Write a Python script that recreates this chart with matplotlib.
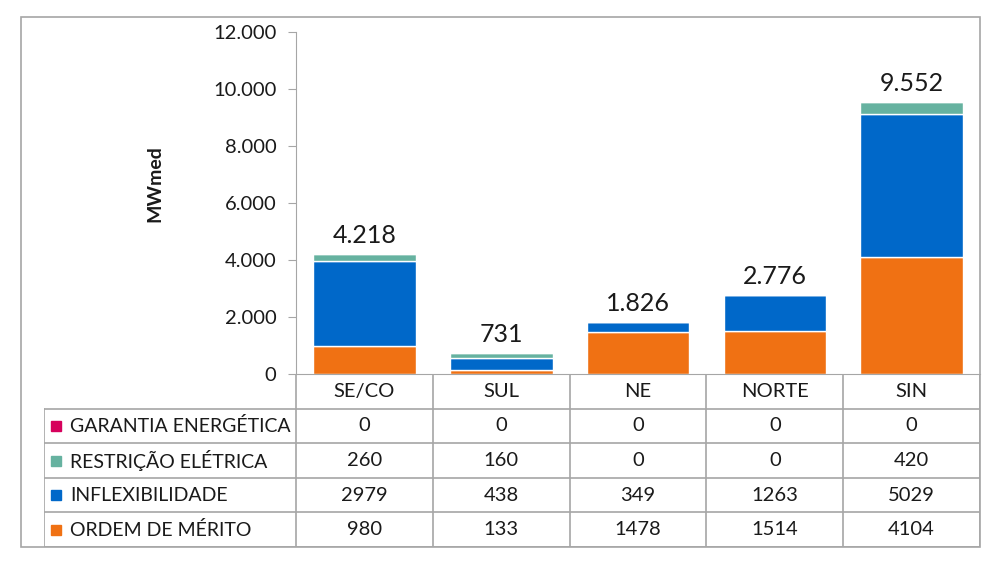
import matplotlib.pyplot as plt
from matplotlib.patches import Rectangle
from matplotlib.ticker import FuncFormatter

plt.rcParams['font.family'] = ['Lato', 'DejaVu Sans']

regioes = ['SE/CO', 'SUL', 'NE', 'NORTE', 'SIN']
series = ['GARANTIA ENERGÉTICA', 'RESTRIÇÃO ELÉTRICA', 'INFLEXIBILIDADE', 'ORDEM DE MÉRITO']
garantia = [0, 0, 0, 0, 0]
restricao = [260, 160, 0, 0, 420]
inflex = [2979, 438, 349, 1263, 5029]
merito = [980, 133, 1478, 1514, 4104]
totais = ['4.218', '731', '1.826', '2.776', '9.552']
cores = ['#D6005C', '#66B2A0', '#0068C9', '#F07113']

W, H = 1004, 573
fig = plt.figure(figsize=(W / 100, H / 100), dpi=100)

def px(x0, y0, x1, y1):
    # pixel box -> figure fraction
    return [x0 / W, 1 - y1 / H, (x1 - x0) / W, (y1 - y0) / H]

grid = '#A6A6A6'
txt = '#1a1a1a'

# moldura externa
fig.patches.append(Rectangle((21 / W, 1 - 547 / H), (980 - 21) / W, (547 - 17) / H,
                             transform=fig.transFigure, fill=False, ec=grid, lw=1.2))

ax = fig.add_axes(px(296, 32, 980, 374))
x = range(len(regioes))
bottom = [0] * len(regioes)
for vals, cor in [(merito, cores[3]), (inflex, cores[2]), (restricao, cores[1]), (garantia, cores[0])]:
    ax.bar(x, vals, bottom=bottom, width=0.75, color=cor, edgecolor='white', lw=1)
    bottom = [b + v for b, v in zip(bottom, vals)]

for i, t in enumerate(totais):
    ax.annotate(t, (i, bottom[i]), xytext=(0, 5), textcoords='offset points',
                ha='center', va='bottom', fontsize=18, color=txt)

ax.set_xlim(-0.5, len(regioes) - 0.5)
ax.set_ylim(0, 12000)
ax.set_yticks(range(0, 12001, 2000))
ax.yaxis.set_major_formatter(FuncFormatter(lambda v, p: '{:,.0f}'.format(v).replace(',', '.')))
ax.tick_params(axis='y', labelsize=14.5, length=6, color=grid, pad=8, labelcolor=txt)
ax.set_xticks([])
for s in ['top', 'right']:
    ax.spines[s].set_visible(False)
ax.spines['left'].set_color(grid)
ax.spines['bottom'].set_color(grid)
ax.set_ylabel('MWmed', fontsize=14, fontweight='bold', color=txt)
ax.yaxis.set_label_coords(-0.194, 0.556)

# tabela de dados
lab_w = (296 - 44) / ((980 - 296) / len(regioes))
tax = fig.add_axes(px(44, 374, 980, 547))
tax.set_xlim(-0.5 - lab_w, len(regioes) - 0.5)
nrow = len(series) + 1
tax.set_ylim(nrow, 0)
tax.axis('off')
lk = dict(color=grid, lw=1.2)
# linhas horizontais
tax.plot([-0.5, len(regioes) - 0.5], [0, 0], **lk)
for r in range(1, nrow + 1):
    tax.plot([-0.5 - lab_w, len(regioes) - 0.5], [r, r], **lk)
# linhas verticais
tax.plot([-0.5 - lab_w] * 2, [1, nrow], **lk)
for c in range(len(regioes) + 1):
    tax.plot([c - 0.5] * 2, [0, nrow], **lk)

for c, reg in enumerate(regioes):
    tax.text(c, 0.5, reg, ha='center', va='center', fontsize=14.5, color=txt)
linhas = [garantia, restricao, inflex, merito]
for r, (nome, vals, cor) in enumerate(zip(series, linhas, cores)):
    y = r + 1.5
    tax.plot(-0.5 - lab_w + 0.085, y, marker='s', ms=7, color=cor, ls='none')
    tax.text(-0.5 - lab_w + 0.19, y, nome, ha='left', va='center', fontsize=14, color=txt)
    for c, v in enumerate(vals):
        tax.text(c, y, str(v), ha='center', va='center', fontsize=14.5, color=txt)

fig.savefig('out.png', dpi=100)
